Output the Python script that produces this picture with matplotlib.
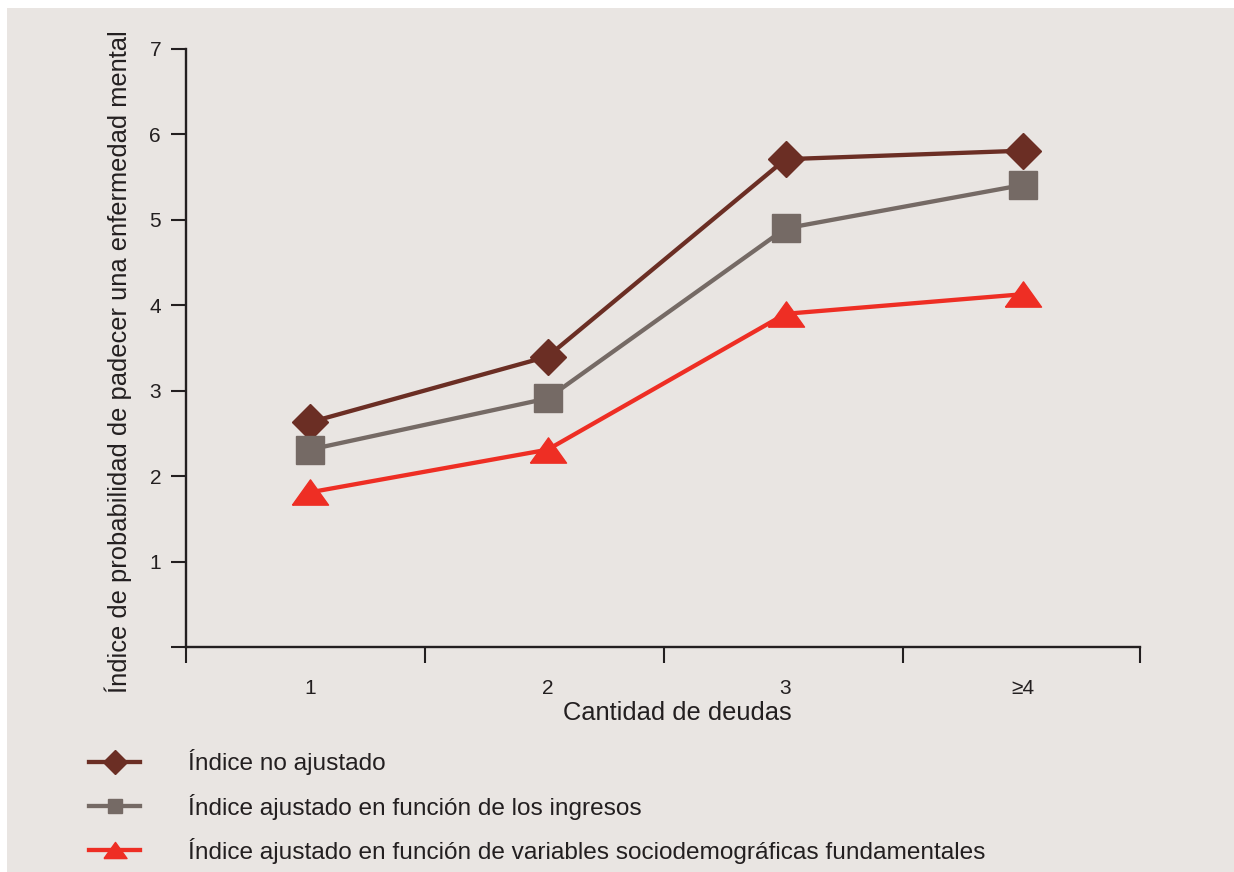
import matplotlib
matplotlib.use("Agg")
import matplotlib.pyplot as plt
from matplotlib.patches import Rectangle
from matplotlib.path import Path

categories = ["1", "2", "3", "≥4"]
no_ajustado = [2.63, 3.40, 5.71, 5.81]
ajustado_ingresos = [2.31, 2.91, 4.90, 5.41]
ajustado_socio = [1.81, 2.31, 3.90, 4.13]
series_labels = [
    "Índice no ajustado",
    "Índice ajustado en función de los ingresos",
    "Índice ajustado en función de variables sociodemográficas fundamentales",
]
y_ticks = [0, 1, 2, 3, 4, 5, 6, 7]
y_ticklabels = ["", "1", "2", "3", "4", "5", "6", "7"]

plt.rcParams['font.family'] = ['Liberation Sans', 'DejaVu Sans']
TXT = "#231f20"
BG = "#e9e5e2"

W, H = 1234, 872
fig = plt.figure(figsize=(W / 100, H / 100), dpi=100)
fig.patch.set_facecolor("white")
fig.patches.append(Rectangle((7 / W, 0), 1 - 7 / W, 1 - 8 / H, transform=fig.transFigure,
                             facecolor=BG, edgecolor="none", zorder=-10))

ax = fig.add_axes([186 / W, 1 - 647 / H, (1140 - 186) / W, (647 - 49) / H])
ax.set_facecolor("none")
ax.set_zorder(5)

tri = Path([(-1, -0.7), (1, -0.7), (0, 0.7), (-1, -0.7)])
xs = list(range(1, len(categories) + 1))
lw = 3.1
l1, = ax.plot(xs, no_ajustado, color="#6b2e24", lw=lw, marker="D", ms=18.5, label=series_labels[0], clip_on=False)
l2, = ax.plot(xs, ajustado_ingresos, color="#756a65", lw=lw, marker="s", ms=19.5, label=series_labels[1], clip_on=False)
l3, = ax.plot(xs, ajustado_socio, color="#ee2e24", lw=lw, marker=tri, ms=26, label=series_labels[2], clip_on=False)

ax.set_xlim(0.48, 4.49)
ax.set_ylim(0, 7)

for s in ["top", "right"]:
    ax.spines[s].set_visible(False)
for s in ["left", "bottom"]:
    ax.spines[s].set_color(TXT)
    ax.spines[s].set_linewidth(1.7)

ax.set_yticks(y_ticks)
ax.set_yticklabels(y_ticklabels)
ax.tick_params(axis="y", direction="out", length=11, width=1.5, color=TXT, labelcolor=TXT,
               labelsize=15, pad=7)

ax.set_xticks([0.48, 1.485, 2.488, 3.492, 4.49])
ax.set_xticklabels([])
ax.set_xticks(xs, minor=True)
ax.set_xticklabels(categories, minor=True)
ax.tick_params(axis="x", which="major", direction="out", length=11.5, width=1.5, color=TXT)
ax.tick_params(axis="x", which="minor", length=0, labelcolor=TXT, labelsize=15, pad=23)

fig.text(677 / W, 1 - 713 / H, "Cantidad de deudas", ha="center", va="center", fontsize=18.4, color=TXT)
fig.text(118 / W, 1 - 362 / H, "Índice de probabilidad de padecer una enfermedad mental",
         ha="center", va="center", rotation=90, fontsize=18.4, color=TXT)

leg = fig.legend(handles=[l1, l2, l3], labels=series_labels, loc="center left",
                 bbox_to_anchor=(89 / W, 1 - 806.5 / H), bbox_transform=fig.transFigure,
                 frameon=False, fontsize=17.6, handlelength=2.1,
                 handletextpad=1.95, labelspacing=0.74, borderpad=0, borderaxespad=0,
                 labelcolor=TXT)
for h, ms in zip(leg.legend_handles, [12.3, 10.5, 16.6]):
    h.set_markersize(ms)

fig.savefig("out.png", dpi=100, facecolor=fig.get_facecolor())
